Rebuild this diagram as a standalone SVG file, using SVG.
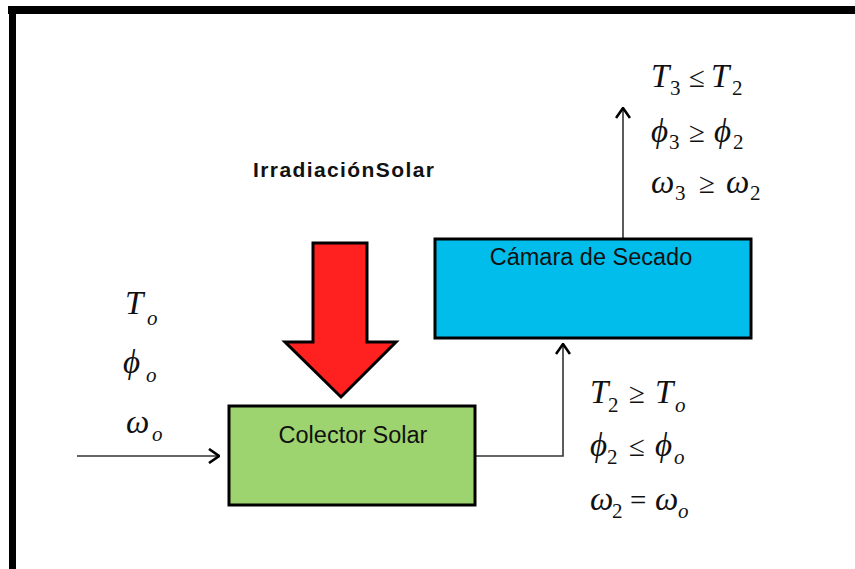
<svg xmlns="http://www.w3.org/2000/svg" width="855" height="569" viewBox="0 0 855 569">
<defs>
<style>
.box{stroke:#000;stroke-width:3}
.lbl{font-family:"Liberation Sans",Arial,sans-serif;font-size:23.5px;fill:#111;text-anchor:middle}
.m{font-family:"Liberation Serif","Times New Roman",serif;font-style:italic;font-size:33px;fill:#111}
.s{font-family:"Liberation Serif","Times New Roman",serif;font-size:21px;fill:#111}
.si{font-family:"Liberation Serif","Times New Roman",serif;font-style:italic;font-size:21px;fill:#111}
.op{font-family:"Liberation Serif","Times New Roman",serif;font-size:29px;fill:#111}
.conn{fill:none;stroke:#333;stroke-width:1.6}
</style>
<marker id="chev" viewBox="0 0 12 16" refX="11" refY="8" markerWidth="12" markerHeight="16" markerUnits="userSpaceOnUse" orient="auto">
<path d="M1,1 L11,8 L1,15" fill="none" stroke="#000" stroke-width="2.6"/>
</marker>
</defs>
<rect width="855" height="569" fill="#fff"/>
<g id="frame">
<rect x="8" y="6" width="847" height="8" fill="#000"/>
<rect x="9" y="6" width="7" height="563" fill="#000"/>
</g>
<g id="connectors">
<path class="conn" d="M77,456 H219" marker-end="url(#chev)"/>
<path class="conn" d="M476,456 H563 V344" marker-end="url(#chev)"/>
<path class="conn" d="M623,238 V108" stroke="#555" marker-end="url(#chev)"/>
</g>
<g id="irradiacion">
<text x="253" y="177" font-family="Liberation Sans,Arial,sans-serif" font-weight="bold" font-size="21" letter-spacing="1.4" fill="#111">IrradiaciónSolar</text>
<path d="M313,243 H367 V342 H396 L341,397 L285,342 H313 Z" fill="#FF2020" stroke="#000" stroke-width="3" stroke-linejoin="miter"/>
</g>
<g id="colector">
<rect class="box" x="229" y="406" width="246" height="99" fill="#9DD46F"/>
<text class="lbl" x="353" y="443">Colector Solar</text>
</g>
<g id="camara">
<rect class="box" x="435" y="239" width="316" height="99" fill="#00BDEB"/>
<text class="lbl" x="591" y="265">Cámara de Secado</text>
</g>
<g id="vars-in">
<text class="m" x="125" y="314">T</text><text class="si" x="147" y="325">o</text>
<text class="m" x="123" y="373">ϕ</text><text class="si" x="146" y="382">o</text>
<text class="m" x="126" y="433">ω</text><text class="si" x="152" y="441">o</text>
</g>
<g id="vars-mid">
<text class="m" x="590" y="403">T</text><text class="s" x="608" y="412">2</text>
<text class="op" x="629" y="403">≥</text>
<text class="m" x="655" y="403">T</text><text class="si" x="675" y="412">o</text>
<text class="m" x="590" y="456">ϕ</text><text class="s" x="607" y="464">2</text>
<text class="op" x="629" y="456">≤</text>
<text class="m" x="655" y="456">ϕ</text><text class="si" x="674" y="464">o</text>
<text class="m" x="590" y="510">ω</text><text class="s" x="612" y="518">2</text>
<text class="op" x="630" y="510">=</text>
<text class="m" x="655" y="510">ω</text><text class="si" x="678" y="518">o</text>
</g>
<g id="vars-out">
<text class="m" x="651" y="87">T</text><text class="s" x="670" y="95">3</text>
<text class="op" x="689" y="87">≤</text>
<text class="m" x="711" y="87">T</text><text class="s" x="732" y="95">2</text>
<text class="m" x="651" y="142">ϕ</text><text class="s" x="669" y="149">3</text>
<text class="op" x="689" y="142">≥</text>
<text class="m" x="714" y="142">ϕ</text><text class="s" x="733" y="149">2</text>
<text class="m" x="651" y="193">ω</text><text class="s" x="675" y="200">3</text>
<text class="op" x="699" y="193">≥</text>
<text class="m" x="726" y="193">ω</text><text class="s" x="750" y="200">2</text>
</g>
</svg>
